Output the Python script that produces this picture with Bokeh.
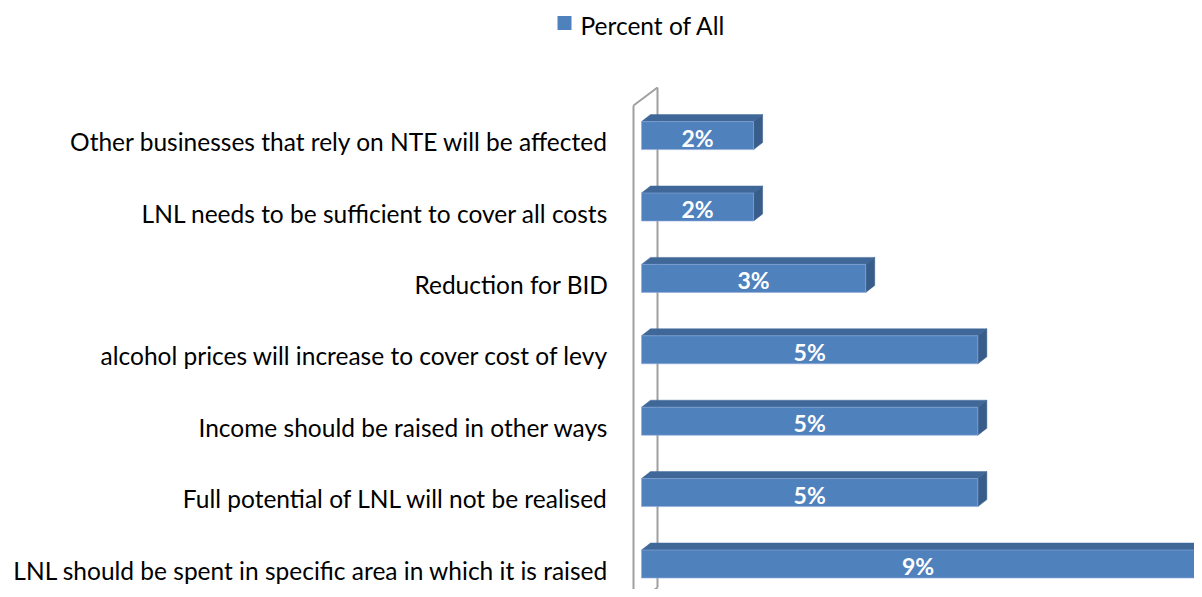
from bokeh.plotting import figure
from bokeh.models import Range1d, ColumnDataSource
from bokeh.core.properties import value
from bokeh.embed import file_html
from bokeh.resources import INLINE

# ---- data (top to bottom as shown) ----
categories = [
    "Other businesses that rely on NTE will be affected",
    "LNL needs to be sufficient to cover all costs",
    "Reduction for BID",
    "alcohol prices will increase to cover cost of levy",
    "Income should be raised in other ways",
    "Full potential of LNL will not be realised",
    "LNL should be spent in specific area in which it is raised",
]
percent_values = [1.54, 1.54, 3.08, 4.62, 4.62, 4.62, 9.23]
value_labels = ["2%", "2%", "3%", "5%", "5%", "5%", "9%"]
series_name = "Percent of All"

# ---- layout parameters (pixels) ----
W, H = 1194, 589
SX = 72.8          # px per percent
X0 = 641           # px of 0%
SY = 71.4          # px per row
Y0 = 563.5         # px (from top) of bottom row centre
FACE_H = 28
DEPTH_X, DEPTH_Y = 9, 7

FONT = "Lato"
FRONT = "#4F81BD"
TOP = "#3F6899"
SIDE = "#385D8A"
WALL = "#A0A0A0"


def dxp(px):
    return (px - X0) / SX


def dyp(py):
    return (Y0 - py) / SY


n = len(categories)
rows = [n - 1 - i for i in range(n)]  # top row highest

x_start, x_end = dxp(0), dxp(W)
y_start, y_end = dyp(H), dyp(0)

p = figure(width=W, height=H, x_range=Range1d(x_start, x_end),
           y_range=Range1d(y_start, y_end), output_backend="svg",
           toolbar_location=None, min_border=0)
p.axis.visible = False
p.grid.visible = False
p.outline_line_color = None
p.background_fill_color = "white"
p.border_fill_color = "white"

h = FACE_H / SY
dx = DEPTH_X / SX
dy = DEPTH_Y / SY

# ---- back wall ----
wf, wb = dxp(633), dxp(657)
w_top_front, w_top_back, w_bot_back = dyp(105), dyp(87), dyp(587)
w_bot_front = w_bot_back - (w_top_back - w_top_front)
p.line([wf, wf], [w_bot_front, w_top_front], line_color=WALL, line_width=2)
p.line([wf, wb], [w_top_front, w_top_back], line_color=WALL, line_width=2)
p.line([wb, wb], [w_top_back, w_bot_back], line_color=WALL, line_width=2)
p.line([wb, wf], [w_bot_back, w_bot_front], line_color=WALL, line_width=2)

# ---- 3D bars ----
top_xs, top_ys, side_xs, side_ys = [], [], [], []
for r, v in zip(rows, percent_values):
    t = r + h / 2
    b = r - h / 2
    top_xs.append([0, v, v + dx, dx])
    top_ys.append([t, t, t + dy, t + dy])
    side_xs.append([v, v, v + dx, v + dx])
    side_ys.append([b, t, t + dy, b + dy])

p.patches(top_xs, top_ys, fill_color=TOP, line_color=TOP, line_width=0.5)
p.patches(side_xs, side_ys, fill_color=SIDE, line_color=SIDE, line_width=0.5)
src = ColumnDataSource(dict(y=rows, right=percent_values))
p.hbar(y="y", left=0, right="right", height=h, source=src,
       fill_color=FRONT, line_color="#8FAADC", line_width=0.6)

# value labels (centred on visible part of front face)
lab_x = [min(v, x_end) / 2 for v in percent_values]
p.text(x=lab_x, y=rows, text=value_labels, text_color="white",
       text_font=value(FONT), text_font_style="bold", text_font_size="23px",
       text_align="center", text_baseline="middle", y_offset=2)

# category labels
p.text(x=[dxp(608)] * n, y=rows, text=categories, text_color="#000000",
       text_font=value(FONT), text_font_size="24.5px",
       text_align="right", text_baseline="middle", y_offset=6)

# ---- legend (drawn manually) ----
p.rect(x=[dxp(564)], y=[dyp(22.5)], width=14, height=14,
       width_units="screen", height_units="screen",
       fill_color=FRONT, line_color=None)
p.text(x=[dxp(580)], y=[dyp(25)], text=[series_name], text_color="#000000",
       text_font=value(FONT), text_font_size="24.5px",
       text_align="left", text_baseline="middle")

open("out.html", "w").write(file_html(p, INLINE))
